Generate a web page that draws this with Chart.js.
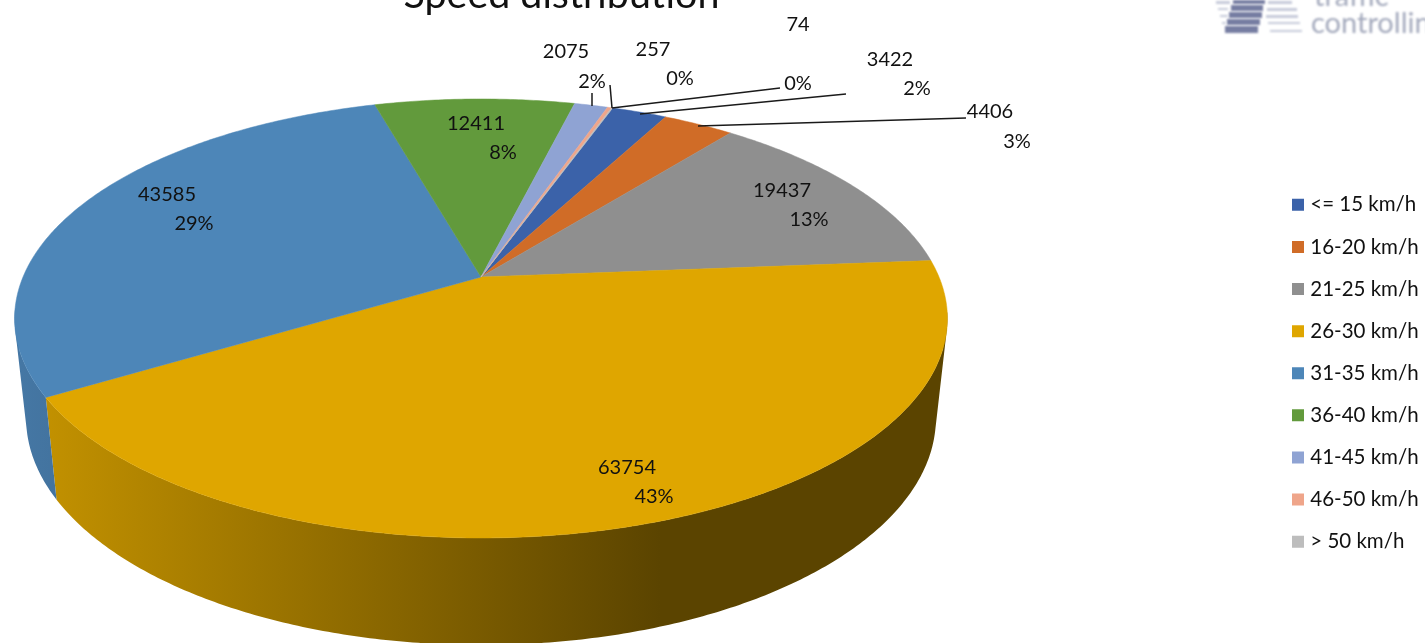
<!DOCTYPE html>
<html lang="en">
<head>
  <meta charset="UTF-8" />
  <title>Speed distribution</title>
  <script src="https://cdn.jsdelivr.net/npm/chart.js@4.4.3/dist/chart.umd.min.js"></script>
  <style>
    html, body {
      margin: 0;
      background: #fff;
      overflow: hidden;
    }

    .wrap {
      width: 1425px;
      height: 643px;
    }

    canvas {
      filter: blur(0.45px);
    }
  </style>
</head>
<body>
  <div class="wrap"><canvas id="speedChart"></canvas></div>

  <script>
    const categories = ['<= 15 km/h', '16-20 km/h', '21-25 km/h', '26-30 km/h', '31-35 km/h', '36-40 km/h', '41-45 km/h', '46-50 km/h', '> 50 km/h'];
    const counts = [3422, 4406, 19437, 63754, 43585, 12411, 2075, 257, 74];
    const percentLabels = ['2%', '3%', '13%', '43%', '29%', '8%', '2%', '0%', '0%'];
    const colors = ['#3b62a9', '#d06c27', '#8f8f8f', '#dfa600', '#4d86b8', '#629a3c', '#8fa3d3', '#efa58a', '#bdbdbd'];

    // where the two lines of each label sit: value x,y then percent x,y
    const labelSpots = [
      [890, 60, 917, 89],
      [990, 112, 1017, 142],
      [782, 191, 809, 220],
      [627, 468, 654, 497],
      [167, 195, 194, 224],
      [476, 124, 503, 153],
      [566, 52, 592, 82],
      [653, 50, 680, 79],
      [798, 25, 798, 84]
    ];
    const leaderLines = [
      [592, 93, 592, 106],
      [610, 85, 612, 108],
      [780, 88, 612, 108],
      [846, 94, 640, 114],
      [966, 118, 698, 126]
    ];

    // perspective of the tilted disc: top face and bottom face
    const topFace = { x: 481, y: 277, w: 458, h: 211.65 };
    const bottomFace = { x: 481, y: 375.1, w: 446.7, h: 218.9 };
    const tilt = -0.189;
    const LABEL_FONT = '20px Lato';

    function onFace(face, angle) {
      const d = 1 + tilt * Math.sin(angle);
      return [face.x + face.w * Math.cos(angle) / d, face.y + face.h * Math.sin(angle) / d];
    }

    function rimAngles(start, end) {
      const steps = Math.max(2, Math.ceil((end - start) / 0.01));
      const angles = [];
      for (let i = 0; i <= steps; i++) {
        angles.push(start + (end - start) * i / steps);
      }
      return angles;
    }

    function shade(hex, f) {
      const n = parseInt(hex.slice(1), 16);
      return 'rgb(' + Math.round((n >> 16) * f) + ',' + Math.round(((n >> 8) & 255) * f) + ',' + Math.round((n & 255) * f) + ')';
    }

    function addPolygon(ctx, pts) {
      pts.forEach((p, i) => (i ? ctx.lineTo(p[0], p[1]) : ctx.moveTo(p[0], p[1])));
      ctx.closePath();
    }

    // all quads wound the same way, otherwise overlaps cancel in the fill
    function sameWinding(pts) {
      let area = 0;
      pts.forEach((p, i) => {
        const q = pts[(i + 1) % pts.length];
        area += p[0] * q[1] - q[0] * p[1];
      });
      return area < 0 ? pts.reverse() : pts;
    }

    function drawLogo(ctx) {
      ctx.save();
      ctx.filter = 'blur(1px)';
      ctx.fillStyle = '#767da2';
      [[1233, 0, 32, 4], [1231, 5, 32, 6], [1229, 12, 33, 6], [1227, 19, 33, 6], [1225, 26, 33, 7]].forEach(r => ctx.fillRect(r[0], r[1], r[2], r[3]));
      ctx.fillStyle = '#c6cad9';
      [[1216, 1, 14, 3], [1218, 8, 10, 2], [1220, 15, 8, 2], [1222, 22, 4, 2], [1268, 1, 24, 3], [1267, 8, 30, 3], [1266, 15, 32, 3], [1268, 22, 32, 2], [1270, 30, 32, 2]].forEach(r => ctx.fillRect(r[0], r[1], r[2], r[3]));
      ctx.fillStyle = '#a3a9bc';
      ctx.font = '29px Lato';
      ctx.textAlign = 'left';
      ctx.textBaseline = 'alphabetic';
      ctx.fillText('traffic', 1314, 6);
      ctx.fillText('controlling', 1311, 33);
      ctx.restore();
    }

    const discPlugin = {
      id: 'disc3d',
      afterLayout(chart) {
        // legend and title sit where the picture has them, not where the layout boxes want
        const legend = chart.legend;
        legend.left = 1296 - legend.options.labels.padding;
        legend.top = 173;
        legend.bottom = 2000;
        const title = chart.titleBlock;
        title.left = 361;
        title.right = 762;
        title.top = -28;
      },
      beforeDatasetsDraw(chart) {
        const ctx = chart.ctx;
        const arcs = chart.getDatasetMeta(0).data;

        drawLogo(ctx);

        // side wall first, darker towards the right; only the front of the rim shows
        arcs.forEach((arc, i) => {
          const grad = ctx.createLinearGradient(20, 0, 660, 0);
          grad.addColorStop(0, shade(colors[i], 0.89));
          grad.addColorStop(1, shade(colors[i], 0.41));
          const angles = rimAngles(arc.startAngle, arc.endAngle);
          ctx.beginPath();
          for (let k = 1; k < angles.length; k++) {
            if (Math.sin(angles[k]) < 0.15 || Math.sin(angles[k - 1]) < 0.15) continue;
            addPolygon(ctx, sameWinding([onFace(topFace, angles[k - 1]), onFace(topFace, angles[k]), onFace(bottomFace, angles[k]), onFace(bottomFace, angles[k - 1])]));
          }
          ctx.fillStyle = grad;
          ctx.fill('nonzero');
        });

        // top face, built from the angles the pie controller worked out
        arcs.forEach((arc, i) => {
          const pts = rimAngles(arc.startAngle, arc.endAngle).map(a => onFace(topFace, a));
          pts.unshift([topFace.x, topFace.y]);
          ctx.beginPath();
          addPolygon(ctx, pts);
          ctx.fillStyle = colors[i];
          ctx.strokeStyle = colors[i];
          ctx.lineWidth = 0.5;
          ctx.fill();
          ctx.stroke();
        });

        ctx.strokeStyle = '#1a1a1a';
        ctx.lineWidth = 1.5;
        leaderLines.forEach(l => {
          ctx.beginPath();
          ctx.moveTo(l[0], l[1]);
          ctx.lineTo(l[2], l[3]);
          ctx.stroke();
        });

        ctx.fillStyle = '#111';
        ctx.font = LABEL_FONT;
        ctx.textAlign = 'center';
        ctx.textBaseline = 'middle';
        counts.forEach((value, i) => {
          const s = labelSpots[i];
          ctx.fillText(String(value), s[0], s[1]);
          ctx.fillText(percentLabels[i], s[2], s[3]);
        });
        return false;
      }
    };

    new Chart(document.getElementById('speedChart'), {
      type: 'pie',
      data: {
        labels: categories,
        datasets: [{
          data: counts,
          backgroundColor: colors,
          borderColor: colors,
          // thick border on a tiny legend box keeps the text close to the swatch
          borderWidth: 8
        }]
      },
      options: {
        responsive: true,
        maintainAspectRatio: false,
        animation: false,
        rotation: 19.8,
        plugins: {
          title: {
            display: true,
            text: 'Speed distribution',
            color: '#111',
            padding: 0,
            font: { family: 'Lato', size: 39.4, weight: 'normal', lineHeight: 1.2 }
          },
          legend: {
            position: 'right',
            align: 'start',
            labels: {
              boxWidth: 4,
              boxHeight: 4,
              padding: 21.6,
              color: '#111',
              font: { family: 'Lato', size: 20.5 }
            }
          },
          tooltip: { enabled: false }
        }
      },
      plugins: [discPlugin]
    });
  </script>
</body>
</html>
